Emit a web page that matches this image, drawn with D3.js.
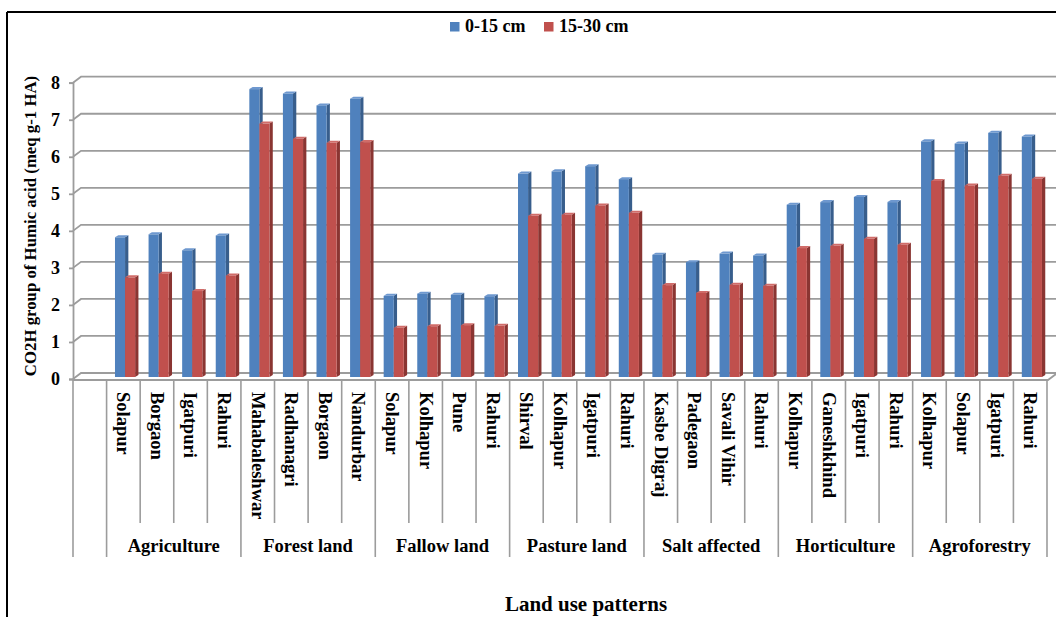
<!DOCTYPE html>
<html>
<head>
<meta charset="utf-8">
<script src="https://cdn.jsdelivr.net/npm/d3@7"></script>
<style>
  html, body { margin: 0; padding: 0; background: #fff; }
  svg { display: block; }
</style>
</head>
<body>
<svg id="chart" width="1056" height="617"></svg>
<script>
// Land use groups and the four sampling sites in each
const groups = ["Agriculture", "Forest land", "Fallow land", "Pasture land", "Salt affected", "Horticulture", "Agroforestry"];
const sites = [
  "Solapur", "Borgaon", "Igatpuri", "Rahuri",
  "Mahabaleshwar", "Radhanagri", "Borgaon", "Nandurbar",
  "Solapur", "Kolhapur", "Pune", "Rahuri",
  "Shirval", "Kolhapur", "Igatpuri", "Rahuri",
  "Kasbe Digraj", "Padegaon", "Savali Vihir", "Rahuri",
  "Kolhapur", "Ganeshkhind", "Igatpuri", "Rahuri",
  "Kolhapur", "Solapur", "Igatpuri", "Rahuri"
];
// CO2H group of humic acid (meq g-1 HA) by soil depth
const depth0to15 = [
  3.77, 3.85, 3.42, 3.82,
  7.77, 7.65, 7.33, 7.51,
  2.19, 2.25, 2.22, 2.18,
  5.49, 5.55, 5.69, 5.34,
  3.30, 3.10, 3.33, 3.28,
  4.65, 4.72, 4.86, 4.72,
  6.36, 6.30, 6.59, 6.49
];
const depth15to30 = [
  2.69, 2.79, 2.32, 2.74,
  6.84, 6.43, 6.32, 6.34,
  1.33, 1.37, 1.40, 1.38,
  4.35, 4.38, 4.63, 4.43,
  2.48, 2.27, 2.49, 2.46,
  3.48, 3.54, 3.73, 3.57,
  5.29, 5.17, 5.43, 5.35
];
const seriesNames = ["0-15 cm", "15-30 cm"];
const yTicks = [0, 1, 2, 3, 4, 5, 6, 7, 8];

const FONT = "'Liberation Serif', 'Times New Roman', Times, serif";

const svg = d3.select("#chart");

const palette = {
  "0-15 cm":  { front: "#4F81BD", side: "#385E8C", top: "#6E98CF" },
  "15-30 cm": { front: "#C0504D", side: "#8A3532", top: "#D06C69" }
};

function label(sel) {
  return sel.attr("font-family", FONT).attr("font-weight", "bold").attr("fill", "#000");
}

// frame
svg.append("line").attr("x1", 7).attr("x2", 1056).attr("y1", 12).attr("y2", 12)
  .attr("stroke", "#000").attr("stroke-width", 2);
svg.append("line").attr("x1", 7).attr("x2", 7).attr("y1", 12).attr("y2", 617)
  .attr("stroke", "#000").attr("stroke-width", 2);

// geometry of the pseudo-3D plot box
const left = 73, right = 1047;
const wallDx = 8, wallDy = -6;     // back wall offset
const barDx = 3.3, barDy = -2;     // bar depth offset

// slot 0 is a blank leading category, sites occupy 1..28
const slots = d3.range(sites.length + 1);
const x = d3.scaleBand().domain(slots).range([left, right]).padding(0);
const bw = x.bandwidth();
const xSeries = d3.scaleBand().domain(seriesNames).range([bw * 0.25, bw * 0.85]).padding(0);

const yFront = d3.scaleLinear().domain([0, 8]).range([379, 82.7]);
const yBar = d3.scaleLinear().domain([0, 8]).range([377, 80.6]);

const gridColor = "#9C9C9C";

// back-wall gridlines with their short diagonal from the axis
const grid = svg.append("g");
yTicks.forEach(v => {
  const y0 = yFront(v);
  grid.append("path")
    .attr("d", `M${left},${y0} L${left + wallDx},${y0 + wallDy} L1056,${y0 + wallDy}`)
    .attr("fill", "none").attr("stroke", gridColor).attr("stroke-width", 1.8);
});

// floor front edge and its right-hand corner
svg.append("path")
  .attr("d", `M${left},${yFront(0) + 1} L${right + 1},${yFront(0) + 1} L${right + 1 + wallDx},${yFront(0) + 1 + wallDy}`)
  .attr("fill", "none").attr("stroke", gridColor).attr("stroke-width", 1.8);

// value axis
const yAxis = d3.axisLeft(yFront).tickValues(yTicks).tickSize(4).tickPadding(9).tickFormat(d3.format("d"));
const yg = svg.append("g").attr("transform", `translate(${left},0)`).call(yAxis);
yg.attr("font-family", FONT);
yg.select(".domain").attr("stroke", gridColor).attr("stroke-width", 1.8);
yg.selectAll(".tick line").attr("stroke", gridColor).attr("stroke-width", 1.8);
label(yg.selectAll(".tick text")).attr("font-size", 18);

// bars: front face, right side face, top face
const rows = sites.map((s, i) => ({ slot: i + 1, vals: [depth0to15[i], depth15to30[i]] }));
const barG = svg.append("g");
rows.forEach(r => {
  seriesNames.forEach((name, k) => {
    const v = r.vals[k];
    const x0 = x(r.slot) + xSeries(name);
    const w = xSeries.bandwidth();
    const yt = yBar(v), yb = yBar(0);
    const c = palette[name];
    const g = barG.append("g");
    g.append("path")
      .attr("d", `M${x0 + w},${yt} L${x0 + w + barDx},${yt + barDy} L${x0 + w + barDx},${yb + barDy} L${x0 + w},${yb} Z`)
      .attr("fill", c.side);
    g.append("path")
      .attr("d", `M${x0},${yt} L${x0 + barDx},${yt + barDy} L${x0 + w + barDx},${yt + barDy} L${x0 + w},${yt} Z`)
      .attr("fill", c.top);
    g.append("rect")
      .attr("x", x0).attr("y", yt).attr("width", w).attr("height", yb - yt)
      .attr("fill", c.front);
  });
});

// category axis: separators, site labels, group labels
const catTop = yFront(0) + 1;
const sepG = svg.append("g");
d3.range(slots.length + 1).forEach(i => {
  const xx = i < slots.length ? x(i) : right;
  const long = i === 0 || i === 1 || i === slots.length || (i - 1) % 4 === 0;
  sepG.append("line")
    .attr("x1", xx).attr("x2", xx)
    .attr("y1", catTop).attr("y2", long ? 557 : 523)
    .attr("stroke", gridColor).attr("stroke-width", 1.6);
});

label(svg.append("g").selectAll("text").data(rows).join("text"))
  .attr("transform", d => `translate(${x(d.slot) + bw / 2},392) rotate(90)`)
  .attr("dy", "0.33em")
  .attr("font-size", 18.5)
  .text((d, i) => sites[i]);

label(svg.append("g").selectAll("text").data(groups).join("text"))
  .attr("x", (d, g) => x(1 + g * 4) + bw * 2)
  .attr("y", 552)
  .attr("text-anchor", "middle")
  .attr("font-size", 18.5)
  .text(d => d);

// axis titles
label(svg.append("text"))
  .attr("transform", "translate(36,226) rotate(-90)")
  .attr("text-anchor", "middle")
  .attr("font-size", 16.8)
  .text("CO2H group of Humic acid (meq g-1 HA)");

label(svg.append("text"))
  .attr("x", 586).attr("y", 611)
  .attr("text-anchor", "middle")
  .attr("font-size", 21)
  .text("Land use patterns");

// legend
const legendX = [450, 544];
const lg = svg.append("g").selectAll("g").data(seriesNames).join("g")
  .attr("transform", (d, i) => `translate(${legendX[i]},22)`);
lg.append("rect").attr("width", 9.5).attr("height", 9.5).attr("fill", d => palette[d].front);
label(lg.append("text")).attr("x", 15).attr("y", 9.5).attr("font-size", 18).text(d => d);
</script>
</body>
</html>
